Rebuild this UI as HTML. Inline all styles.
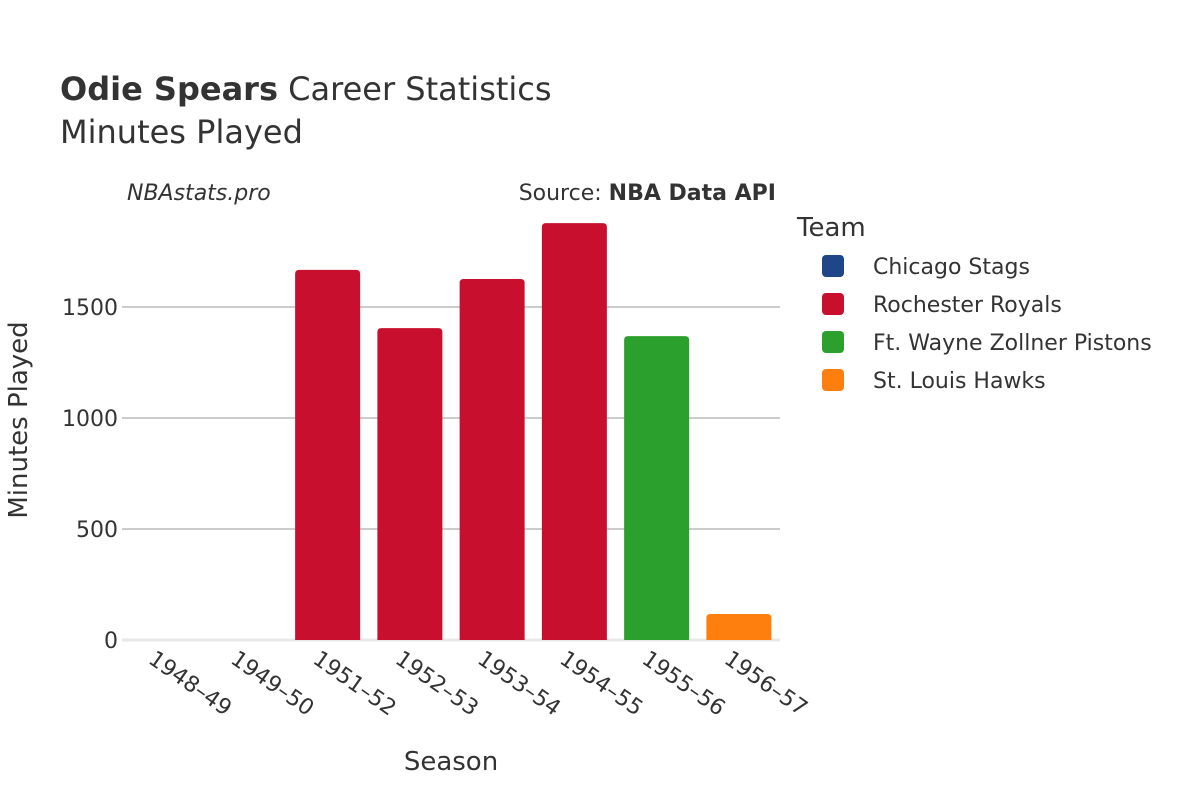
<!DOCTYPE html>
<html><head><meta charset="utf-8"><style>
body{margin:0;background:#fff;font-family:"Liberation Sans","DejaVu Sans",sans-serif;}
svg text{font-family:"DejaVu Sans","Liberation Sans",sans-serif;fill:#333;}
</style></head><body>
<svg id="c" width="1200" height="800">
<text x="60" y="100" font-size="32"><tspan font-weight="bold">Odie Spears</tspan> Career Statistics</text>
<text x="60" y="143" font-size="32">Minutes Played</text>
<text x="127" y="200" font-size="22" font-style="italic">NBAstats.pro</text>
<text x="776" y="200" font-size="22" text-anchor="end">Source: <tspan font-weight="bold">NBA Data API</tspan></text>
<g id="grid"></g><g id="bars"></g><g id="xt"></g><g id="yt"></g>
<text x="451" y="770" font-size="26" text-anchor="middle">Season</text>
<text transform="translate(27,420) rotate(-90)" font-size="26" text-anchor="middle">Minutes Played</text>
<text x="797" y="236" font-size="26">Team</text>
<g id="leg"></g>
</svg>
<script>
const seasons=["1948–49","1949–50","1951–52","1952–53","1953–54","1954–55","1955–56","1956–57"];
const minutes=[0,0,1667,1405,1626,1878,1369,117];
const teamOf=[0,1,1,1,1,1,2,3];
const teams=["Chicago Stags","Rochester Royals","Ft. Wayne Zollner Pistons","St. Louis Hawks"];
const colors=["#1f4788","#c8102e","#2ca02c","#ff7f0e"];
const yTicks=[0,500,1000,1500];
const ns="http://www.w3.org/2000/svg";
const x0=122,x1=780,y0=640,k=111/500;
const bw=(x1-x0)/seasons.length;
const Y=v=>y0-v*k;
function mk(t,a,p){const e=document.createElementNS(ns,t);for(const n in a)e.setAttribute(n,a[n]);document.getElementById(p).appendChild(e);return e;}
yTicks.forEach(v=>{
 if(v>0){const l=mk('line',{x1:x0,x2:x1,y1:Y(v),y2:Y(v),stroke:'#999','stroke-width':1},'grid');
 
 }
 const t=mk('text',{x:x0-4,y:Y(v)+8,'font-size':22,'text-anchor':'end'},'yt');t.textContent=v;
 
 
});
const base=mk('line',{x1:x0,x2:x1,y1:y0,y2:y0,stroke:'#e8e8e8','stroke-width':3},'grid');


seasons.forEach((s,i)=>{
 const cx=x0+bw*(i+0.5),w=65,h=minutes[i]*k;
 if(h>0){const r=mk('path',{d:`M${cx-w/2},${y0}V${y0-h+4}Q${cx-w/2},${y0-h} ${cx-w/2+4},${y0-h}H${cx+w/2-4}Q${cx+w/2},${y0-h} ${cx+w/2},${y0-h+4}V${y0}Z`,fill:colors[teamOf[i]]},'bars');
 
 }
 const t=mk('text',{x:cx-16,y:662,'font-size':22,transform:`rotate(35 ${cx-16} 662)`},'xt');t.textContent=s;
 
 
});
teams.forEach((tm,i)=>{
 const y=266+i*38;
 const r=mk('rect',{x:822,y:y-11,width:22,height:22,rx:4,fill:colors[i]},'leg');
 
 
 const t=mk('text',{x:873,y:y+8,'font-size':22},'leg');t.textContent=tm;
 
 
});
</script>
</body></html>
